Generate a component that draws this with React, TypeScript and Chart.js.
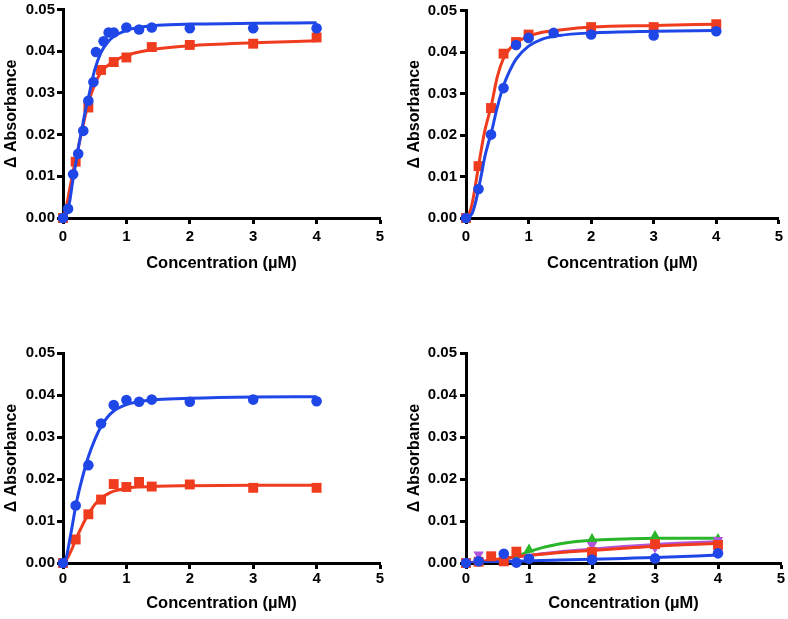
import { useEffect, useRef } from "react";
import { Chart, registerables } from "chart.js";

Chart.register(...registerables);

// ---------- data ----------
const fitX = [0, 0.05, 0.1, 0.15, 0.2, 0.25, 0.3, 0.35, 0.4, 0.5, 0.6, 0.7, 0.8, 1.0, 1.2, 1.5, 2, 3, 4];

// Panel A (top-left)
const aBlueX = [0, 0.08, 0.16, 0.24, 0.32, 0.4, 0.48, 0.52, 0.64, 0.72, 0.8, 1.0, 1.2, 1.4, 2, 3, 4];
const aBlueY = [0, 0.0022, 0.0105, 0.0154, 0.0209, 0.0281, 0.0326, 0.0398, 0.0424, 0.0445, 0.0445, 0.0457, 0.0452, 0.0457, 0.0455, 0.0455, 0.0455];
const aRedX = [0, 0.2, 0.4, 0.6, 0.8, 1.0, 1.4, 2, 3, 4];
const aRedY = [0, 0.0135, 0.0265, 0.0355, 0.0374, 0.0385, 0.041, 0.0415, 0.0418, 0.0433];
const aBlueFit = [0, 0.0008, 0.0035, 0.0085, 0.013, 0.0175, 0.0215, 0.0255, 0.0288, 0.0355, 0.0397, 0.0421, 0.0435, 0.045, 0.0457, 0.0462, 0.0465, 0.0467, 0.0468];
const aRedFit = [0, 0.0025, 0.0065, 0.0105, 0.014, 0.0175, 0.021, 0.0245, 0.0275, 0.032, 0.035, 0.0365, 0.0376, 0.039, 0.0398, 0.0406, 0.0413, 0.042, 0.0425];

// Panel B (top-right)
const bRedX = [0, 0.2, 0.4, 0.6, 0.8, 1.0, 2, 3, 4];
const bRedY = [0, 0.0125, 0.0265, 0.0396, 0.0424, 0.0442, 0.046, 0.046, 0.0467];
const bBlueX = [0, 0.2, 0.4, 0.6, 0.8, 1.0, 1.4, 2, 3, 4];
const bBlueY = [0, 0.007, 0.0201, 0.0313, 0.0417, 0.0434, 0.0446, 0.0442, 0.044, 0.045];
const bRedFit = [0, 0.001, 0.0036, 0.0078, 0.0125, 0.017, 0.021, 0.024, 0.0268, 0.034, 0.0385, 0.0408, 0.0422, 0.0438, 0.0447, 0.0453, 0.046, 0.0464, 0.0467];
const bBlueFit = [0, 0.0003, 0.0012, 0.0036, 0.007, 0.0108, 0.0147, 0.0177, 0.0203, 0.0267, 0.0319, 0.0355, 0.0383, 0.0414, 0.043, 0.044, 0.0446, 0.045, 0.0452];

// Panel C (bottom-left)
const cX = [0, 0.2, 0.4, 0.6, 0.8, 1.0, 1.2, 1.4, 2, 3, 4];
const cBlueY = [0, 0.0137, 0.0233, 0.0332, 0.0376, 0.0388, 0.0384, 0.0389, 0.0384, 0.0389, 0.0385];
const cRedY = [0, 0.0056, 0.0116, 0.0151, 0.0188, 0.0181, 0.0193, 0.0182, 0.0187, 0.0179, 0.0179];
const cBlueFit = [0, 0.0012, 0.005, 0.0092, 0.0135, 0.017, 0.02, 0.0228, 0.0253, 0.0293, 0.0325, 0.0347, 0.0362, 0.0377, 0.0384, 0.0389, 0.0392, 0.0395, 0.0396];
const cRedFit = [0, 0.0007, 0.002, 0.0037, 0.0056, 0.0072, 0.0088, 0.0103, 0.0116, 0.0139, 0.0154, 0.0164, 0.0171, 0.0178, 0.0181, 0.0183, 0.0184, 0.0185, 0.0185];

// Panel D (bottom-right)
const dFitX = [0, 0.2, 0.4, 0.6, 0.8, 1.0, 1.2, 1.5, 2, 2.5, 3, 4];
const dBlueX = [0, 0.2, 0.6, 0.8, 1.0, 2, 3, 4];
const dBlueY = [0, 0.0004, 0.0022, 0.0001, 0.001, 0.0008, 0.0011, 0.0023];
const dRedX = [0, 0.2, 0.4, 0.6, 0.8, 2, 3, 4];
const dRedY = [0, 0.0003, 0.0016, 0.0004, 0.0027, 0.0026, 0.0045, 0.0043];
const dPurpleX = [0, 0.2, 2, 3, 4];
const dPurpleY = [0, 0.002, 0.0043, 0.0037, 0.0055];
const dGreenX = [0.8, 1.0, 2, 3, 4];
const dGreenY = [0.0006, 0.0032, 0.0057, 0.0064, 0.0057];
const dGreenFit = [0, 0.0001, 0.0003, 0.0008, 0.0016, 0.0027, 0.0036, 0.0046, 0.0054, 0.0057, 0.0059, 0.0059];
const dRedFit = [0, 0.0003, 0.0007, 0.0011, 0.0015, 0.0018, 0.0021, 0.0025, 0.003, 0.0035, 0.004, 0.0047];
const dPurpleFit = [0, 0.0003, 0.0006, 0.001, 0.0014, 0.0018, 0.0022, 0.0027, 0.0033, 0.0039, 0.0044, 0.0051];
const dBlueFit = [0, 0.0001, 0.0002, 0.0003, 0.0004, 0.0005, 0.0006, 0.0007, 0.0009, 0.0011, 0.0013, 0.0019];

const xTicks = [0, 1, 2, 3, 4, 5];
const yTicks = [0, 0.01, 0.02, 0.03, 0.04, 0.05];
const xTitle = "Concentration (µM)";
const yTitle = "Δ Absorbance";

// ---------- styles ----------
const BLUE = "#1f46e6";
const RED = "#f03c1e";
const GREEN = "#2ab52a";
const PURPLE = "#b055dc";
const FAMILY = '"Liberation Sans", Arial, Helvetica, sans-serif';

const pts = (xs: number[], ys: number[]) => xs.map((x, i) => ({ x, y: ys[i] }));

const curve = (xs: number[], ys: number[], color: string, order: number) => ({
  data: pts(xs, ys),
  showLine: true,
  pointRadius: 0,
  pointHoverRadius: 0,
  borderColor: color,
  backgroundColor: color,
  borderWidth: 3,
  cubicInterpolationMode: "monotone",
  fill: false,
  order,
});

const marks = (
  xs: number[],
  ys: number[],
  color: string,
  style: string,
  r: number,
  order: number,
  rot = 0
) => ({
  data: pts(xs, ys),
  showLine: false,
  pointStyle: style,
  pointRadius: r,
  pointHoverRadius: r,
  pointRotation: rot,
  backgroundColor: color,
  borderColor: color,
  borderWidth: 0,
  pointBorderWidth: 0,
  clip: false,
  order,
});

type PanelProps = {
  left: number;
  top: number;
  width: number;
  height: number;
  padding: { left: number; right: number; top: number; bottom: number };
  xHeight: number;
  xTickPad: number;
  yTickPad: number;
  datasets: any[];
};

function Panel({ left, top, width, height, padding, xHeight, xTickPad, yTickPad, datasets }: PanelProps) {
  const ref = useRef<HTMLCanvasElement | null>(null);
  useEffect(() => {
    if (!ref.current) return;
    const tickFont = { family: FAMILY, size: 15, weight: "bold" as const, lineHeight: 1 };
    const titleFont = { family: FAMILY, size: 16.5, weight: "bold" as const, lineHeight: 1.2 };
    const grid = {
      drawOnChartArea: false,
      drawTicks: true,
      tickLength: 6,
      tickWidth: 3,
      tickColor: "#000",
      color: "#000",
    };
    const chart = new Chart(ref.current, {
      type: "scatter",
      data: { datasets },
      options: {
        responsive: false,
        animation: false,
        devicePixelRatio: 1,
        layout: { padding },
        plugins: { legend: { display: false }, tooltip: { enabled: false } },
        events: [],
        scales: {
          x: {
            type: "linear",
            min: xTicks[0],
            max: xTicks[xTicks.length - 1],
            afterBuildTicks: (s: any) => {
              s.ticks = xTicks.map((v) => ({ value: v }));
            },
            ticks: {
              color: "#000",
              font: tickFont,
              padding: xTickPad,
              maxRotation: 0,
              callback: (v: any) => String(v),
            },
            grid,
            border: { display: true, width: 3, color: "#000" },
            title: { display: true, text: xTitle, color: "#000", font: titleFont, padding: 0 },
            afterFit: (s: any) => {
              s.height = xHeight;
            },
          },
          y: {
            type: "linear",
            min: yTicks[0],
            max: yTicks[yTicks.length - 1],
            afterBuildTicks: (s: any) => {
              s.ticks = yTicks.map((v) => ({ value: v }));
            },
            ticks: {
              color: "#000",
              font: tickFont,
              padding: yTickPad,
              callback: (v: any) => Number(v).toFixed(2),
            },
            grid,
            border: { display: true, width: 3, color: "#000" },
            title: { display: true, text: yTitle, color: "#000", font: { ...titleFont, size: 16 }, padding: 0 },
            afterFit: (s: any) => {
              s.width = 61;
            },
          },
        },
      } as any,
    });
    return () => chart.destroy();
  }, []);
  return (
    <canvas
      ref={ref}
      width={width}
      height={height}
      style={{ position: "absolute", left, top, width, height, display: "block" }}
    />
  );
}

export default function App() {
  const dsA = [
    marks(aBlueX, aBlueY, BLUE, "circle", 5.3, 0),
    curve(fitX, aBlueFit, BLUE, 1),
    marks(aRedX, aRedY, RED, "rect", 7, 2),
    curve(fitX, aRedFit, RED, 3),
  ];
  const dsB = [
    marks(bBlueX, bBlueY, BLUE, "circle", 5.3, 0),
    curve(fitX, bBlueFit, BLUE, 1),
    marks(bRedX, bRedY, RED, "rect", 7, 2),
    curve(fitX, bRedFit, RED, 3),
  ];
  const dsC = [
    marks(cX, cBlueY, BLUE, "circle", 5.3, 0),
    curve(fitX, cBlueFit, BLUE, 1),
    marks(cX, cRedY, RED, "rect", 7, 2),
    curve(fitX, cRedFit, RED, 3),
  ];
  const dsD = [
    marks(dBlueX, dBlueY, BLUE, "circle", 5.3, 0),
    marks(dRedX, dRedY, RED, "rect", 7, 1),
    marks(dPurpleX, dPurpleY, PURPLE, "triangle", 6, 2, 180),
    marks(dGreenX, dGreenY, GREEN, "triangle", 6, 3),
    curve(dFitX, dBlueFit, BLUE, 4),
    curve(dFitX, dRedFit, RED, 5),
    curve(dFitX, dPurpleFit, PURPLE, 6),
    curve(dFitX, dGreenFit, GREEN, 7),
  ];
  return (
    <div style={{ position: "absolute", left: 0, top: 0, width: 788, height: 619, background: "#fff" }}>
      <Panel
        left={0}
        top={0}
        width={394}
        height={300}
        padding={{ left: 2, right: 14, top: 8, bottom: 27 }}
        xHeight={55}
        xTickPad={5}
        yTickPad={2}
        datasets={dsA}
      />
      <Panel
        left={394}
        top={0}
        width={394}
        height={300}
        padding={{ left: 11, right: 7, top: 8, bottom: 27 }}
        xHeight={55}
        xTickPad={5}
        yTickPad={3}
        datasets={dsB}
      />
      <Panel
        left={0}
        top={300}
        width={394}
        height={319}
        padding={{ left: 2, right: 14, top: 53, bottom: 6 }}
        xHeight={50}
        xTickPad={2}
        yTickPad={2}
        datasets={dsC}
      />
      <Panel
        left={394}
        top={300}
        width={394}
        height={319}
        padding={{ left: 11, right: 7, top: 53, bottom: 6 }}
        xHeight={50}
        xTickPad={2}
        yTickPad={3}
        datasets={dsD}
      />
    </div>
  );
}
